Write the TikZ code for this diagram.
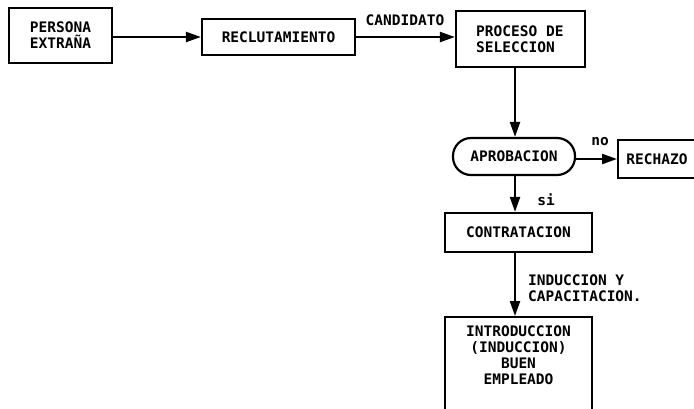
\documentclass[tikz,border=0pt]{standalone}
\usepackage{fontspec}
\setmonofont{DejaVu Sans Mono}
\usetikzlibrary{arrows.meta,positioning}
\begin{document}
\begin{tikzpicture}[x=1pt,y=-1pt,
  every node/.style={font=\ttfamily\bfseries\fontsize{14.5}{16}\selectfont, inner sep=0pt},
  box/.style={draw, line width=2.2pt, align=center},
  lbl/.style={align=left},
  conn/.style={line width=2.2pt, -{Triangle[length=15pt,width=10pt]}}
]
\useasboundingbox (0,0) rectangle (694,408);
\clip (0,0) rectangle (694,408);
\node[box, minimum width=103, minimum height=55] (persona) at (60.5,35.5)
  {\fontsize{14.5}{19}\selectfont PERSONA\\EXTRAÑA};
\node[box, minimum width=153, minimum height=36] (reclut) at (278.5,37) {RECLUTAMIENTO};
\node[box, minimum width=129, minimum height=56] (proceso) at (520.5,39) {};
\node[align=left, anchor=west] (procesotxt) at (476,39)
  {\fontsize{14.5}{18}\selectfont PROCESO DE\\SELECCION};
\node[box, minimum width=122, minimum height=37, rounded corners=18pt] (aprob) at (514,156.5) {APROBACION};
\node[box, minimum width=100, minimum height=38, anchor=west] (rechazo) at (617,159) {};
\node (rechazotxt) at (657,159) {RECHAZO};
\node[box, minimum width=147, minimum height=39] (contrat) at (518.5,232.5) {CONTRATACION};
\node[box, minimum width=147, minimum height=110, anchor=north] (intro) at (518.5,316) {};
\node[align=center, anchor=north] (introtxt) at (518.5,326)
  {INTRODUCCION\\(INDUCCION)\\BUEN\\EMPLEADO};
\coordinate (vx) at (515,0);
\draw[conn] (persona.east |- reclut.west) -- (reclut.west);
\draw[conn] (reclut.east) -- (reclut.east -| proceso.west);
\draw[conn] (vx |- proceso.south) -- (vx |- aprob.north);
\draw[conn] (aprob.east |- rechazo.west) -- (rechazo.west);
\draw[conn] (vx |- aprob.south) -- (vx |- contrat.north);
\draw[conn] (vx |- contrat.south) -- (vx |- intro.north);
\node (candidato) at (405,20) {CANDIDATO};
\node (no) at (600,142) {no};
\node (si) at (546,200) {si};
\node[lbl, anchor=west] (induc) at (528,288.5)
  {\fontsize{14.5}{19}\selectfont INDUCCION Y\\CAPACITACION.};
\end{tikzpicture}
\end{document}
